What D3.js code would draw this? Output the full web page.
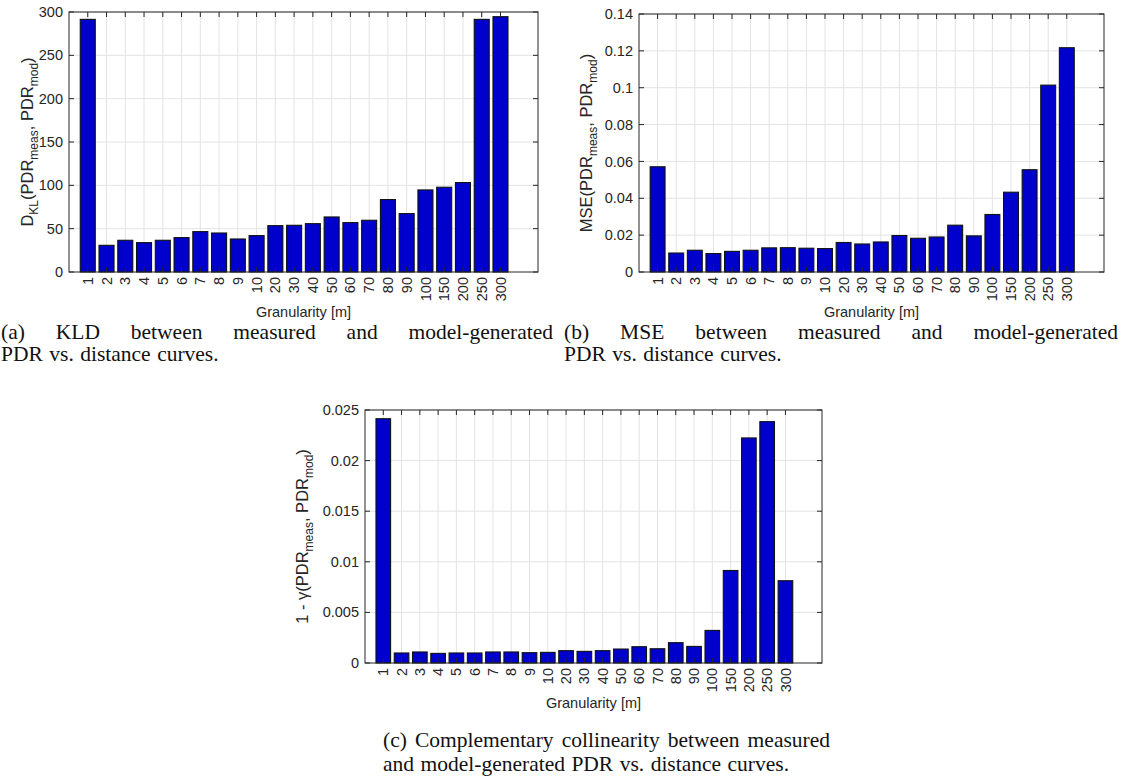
<!DOCTYPE html>
<html lang="en">
<head>
<meta charset="utf-8">
<script src="https://d3js.org/d3.v7.min.js"></script>
<style>
  body { margin: 0; background: #fff; }
  svg { display: block; }
</style>
</head>
<body>
<script>
// categories (granularity in metres)
var granularity = ["1","2","3","4","5","6","7","8","9","10","20","30","40","50","60","70","80","90","100","150","200","250","300"];

// (a) KL divergence
var kldValues = [291.5, 30.8, 36.6, 33.9, 36.6, 39.7, 46.6, 45.0, 38.1, 42.0, 53.5, 53.9, 55.8, 63.5, 57.0, 59.7, 83.6, 67.4, 94.7, 97.8, 103.2, 291.5, 294.6];
var kldTicks = [0, 50, 100, 150, 200, 250, 300];

// (b) MSE
var mseValues = [0.0571, 0.0103, 0.0118, 0.0100, 0.0112, 0.0118, 0.0131, 0.0132, 0.0129, 0.0127, 0.0160, 0.0152, 0.0163, 0.0198, 0.0183, 0.0190, 0.0254, 0.0196, 0.0312, 0.0433, 0.0555, 0.1014, 0.1217];
var mseTicks = [0, 0.02, 0.04, 0.06, 0.08, 0.1, 0.12, 0.14];

// (c) complementary collinearity
var colValues = [0.02414, 0.00099, 0.00109, 0.00095, 0.00099, 0.00099, 0.00109, 0.00109, 0.00102, 0.00105, 0.00122, 0.00115, 0.00122, 0.00138, 0.00161, 0.00141, 0.00201, 0.00164, 0.00322, 0.00914, 0.02224, 0.02385, 0.00813];
var colTicks = [0, 0.005, 0.01, 0.015, 0.02, 0.025];

var W = 1121, H = 783;
var ink = "#262626";
var sans = "'Liberation Sans', Arial, sans-serif";
var serif = "'Liberation Serif', 'Times New Roman', serif";

var svg = d3.select("body").append("svg")
  .attr("width", W).attr("height", H);

function drawPanel(p) {
  var g = svg.append("g");
  var x = d3.scaleLinear().domain([0, granularity.length + 2]).range([p.left, p.right]);
  var y = d3.scaleLinear().domain([0, p.ticks[p.ticks.length - 1]]).range([p.bottom, p.top]);
  var bw = (x(1) - x(0)) * 0.8;

  // grid
  g.selectAll("line.gx").data(granularity).enter().append("line")
    .attr("x1", function(d, i) { return x(i + 1); })
    .attr("x2", function(d, i) { return x(i + 1); })
    .attr("y1", p.top).attr("y2", p.bottom)
    .attr("stroke", "#e3e3e3").attr("stroke-width", 1);
  g.selectAll("line.gy").data(p.ticks.slice(1)).enter().append("line")
    .attr("x1", p.left).attr("x2", p.right)
    .attr("y1", function(d) { return y(d); })
    .attr("y2", function(d) { return y(d); })
    .attr("stroke", "#e3e3e3").attr("stroke-width", 1);

  // bars
  g.selectAll("rect.bar").data(p.values).enter().append("rect")
    .attr("x", function(d, i) { return x(i + 1) - bw / 2; })
    .attr("y", function(d) { return y(d); })
    .attr("width", bw)
    .attr("height", function(d) { return y(0) - y(d); })
    .attr("fill", "#0000cc")
    .attr("stroke", "#111").attr("stroke-width", 1.1);

  // ticks inside on all four sides
  var tl = 5;
  granularity.forEach(function(d, i) {
    g.append("line").attr("x1", x(i + 1)).attr("x2", x(i + 1))
      .attr("y1", p.top).attr("y2", p.top + tl).attr("stroke", ink);
    g.append("line").attr("x1", x(i + 1)).attr("x2", x(i + 1))
      .attr("y1", p.bottom).attr("y2", p.bottom - tl).attr("stroke", ink);
  });
  p.ticks.forEach(function(d) {
    g.append("line").attr("x1", p.left).attr("x2", p.left + tl)
      .attr("y1", y(d)).attr("y2", y(d)).attr("stroke", ink);
    g.append("line").attr("x1", p.right).attr("x2", p.right - tl)
      .attr("y1", y(d)).attr("y2", y(d)).attr("stroke", ink);
  });

  // box
  g.append("rect").attr("x", p.left).attr("y", p.top)
    .attr("width", p.right - p.left).attr("height", p.bottom - p.top)
    .attr("fill", "none").attr("stroke", ink).attr("stroke-width", 1);

  // y tick labels
  g.selectAll("text.yt").data(p.ticks).enter().append("text")
    .attr("x", p.left - 6).attr("y", function(d) { return y(d); })
    .attr("dy", "0.35em").attr("text-anchor", "end")
    .attr("font-family", sans).attr("font-size", 14.5).attr("fill", ink)
    .text(function(d) { return String(+d.toFixed(4)); });

  // x tick labels (rotated)
  g.selectAll("text.xt").data(granularity).enter().append("text")
    .attr("transform", function(d, i) { return "translate(" + x(i + 1) + "," + (p.bottom + 5) + ") rotate(-90)"; })
    .attr("dy", "0.35em").attr("text-anchor", "end")
    .attr("font-family", sans).attr("font-size", 14.5).attr("fill", ink)
    .text(function(d) { return d; });

  // x label
  g.append("text").attr("x", (p.left + p.right) / 2).attr("y", p.bottom + 45)
    .attr("text-anchor", "middle")
    .attr("font-family", sans).attr("font-size", 14.5).attr("fill", ink)
    .text("Granularity [m]");

  // y label with subscripts
  var yl = g.append("text")
    .attr("transform", "translate(" + p.ylabelX + "," + ((p.top + p.bottom) / 2) + ") rotate(-90)")
    .attr("text-anchor", "middle")
    .attr("font-family", sans).attr("font-size", 16.5).attr("fill", ink);
  p.ylabel.forEach(function(part) {
    var t = yl.append("tspan").text(part.t);
    if (part.sub) t.attr("font-size", 12).attr("dy", 4.5);
    if (part.back) t.attr("dy", -4.5);
  });
}

drawPanel({
  left: 69, right: 538, top: 12, bottom: 272, ylabelX: 33,
  values: kldValues, ticks: kldTicks,
  ylabel: [{t: "D"}, {t: "KL", sub: true}, {t: "(PDR", back: true}, {t: "meas", sub: true},
           {t: ", PDR", back: true}, {t: "mod", sub: true}, {t: ")", back: true}]
});
drawPanel({
  left: 639, right: 1104, top: 14, bottom: 272, ylabelX: 592,
  values: mseValues, ticks: mseTicks,
  ylabel: [{t: "MSE(PDR"}, {t: "meas", sub: true},
           {t: ", PDR", back: true}, {t: "mod", sub: true}, {t: ")", back: true}]
});
drawPanel({
  left: 365, right: 822, top: 410, bottom: 663, ylabelX: 308,
  values: colValues, ticks: colTicks,
  ylabel: [{t: "1 - \u03b3(PDR"}, {t: "meas", sub: true},
           {t: ", PDR", back: true}, {t: "mod", sub: true}, {t: ")", back: true}]
});

// captions: justified first line, ragged last line
var capSize = 21.5;
function captionLine(text, x0, x1, y, justify) {
  var words = text.split(" ");
  var g = svg.append("g");
  var nodes = words.map(function(w) {
    return g.append("text").attr("y", y)
      .attr("font-family", serif).attr("font-size", capSize).attr("fill", "#111")
      .text(w);
  });
  var widths = nodes.map(function(n) { return n.node().getComputedTextLength(); });
  var gap = capSize * 0.3;
  if (justify) {
    var total = d3.sum(widths);
    gap = (x1 - x0 - total) / (words.length - 1);
  }
  var cx = x0;
  nodes.forEach(function(n, i) {
    n.attr("x", cx);
    cx += widths[i] + gap;
  });
}

captionLine("(a) KLD between measured and model-generated", 1, 553, 339, true);
captionLine("PDR vs. distance curves.", 1, 553, 361, false);
captionLine("(b) MSE between measured and model-generated", 564, 1118, 339, true);
captionLine("PDR vs. distance curves.", 564, 1118, 361, false);
captionLine("(c) Complementary collinearity between measured", 383, 830, 747, true);
captionLine("and model-generated PDR vs. distance curves.", 383, 830, 771, false);
</script>
</body>
</html>
